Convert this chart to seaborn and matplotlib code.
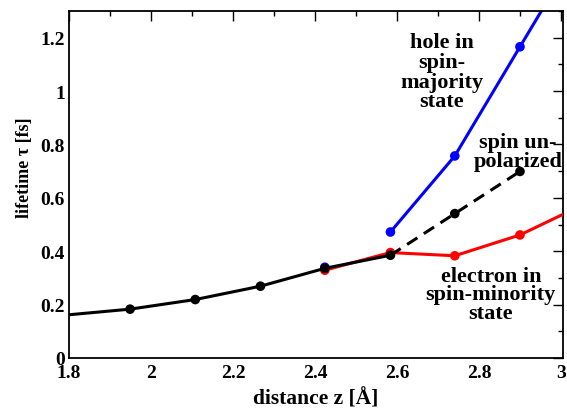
import matplotlib
matplotlib.use("Agg")
import matplotlib.pyplot as plt
import seaborn as sns
from matplotlib.ticker import MultipleLocator, FuncFormatter

sns.set_theme(style="white")
plt.rcParams['font.family'] = ['Liberation Serif', 'DejaVu Serif']
plt.rcParams['font.weight'] = 'bold'
plt.rcParams['text.color'] = 'black'
plt.rcParams['axes.labelcolor'] = 'black'
plt.rcParams['xtick.color'] = 'black'
plt.rcParams['ytick.color'] = 'black'

# black: spin unpolarized (solid part incl. line start at 1.8)
black_x = [1.8, 1.949, 2.108, 2.267, 2.424, 2.584]
black_y = [0.162, 0.183, 0.219, 0.269, 0.336, 0.385]
black_marker_x = [1.949, 2.108, 2.267, 2.424, 2.584]
black_marker_y = [0.183, 0.219, 0.269, 0.336, 0.385]
# black dashed continuation
dash_x = [2.584, 2.741, 2.900]
dash_y = [0.385, 0.541, 0.699]
# blue: hole in spin-majority state
blue_x = [2.584, 2.741, 2.900, 3.0]
blue_y = [0.472, 0.757, 1.166, 1.423]
blue_marker_x = [2.424, 2.584, 2.741, 2.900]
blue_marker_y = [0.340, 0.472, 0.757, 1.166]
# red: electron in spin-minority state
red_x = [2.424, 2.584, 2.741, 2.900, 3.01]
red_y = [0.329, 0.395, 0.383, 0.461, 0.542]
red_marker_x = [2.424, 2.584, 2.741, 2.900]
red_marker_y = [0.329, 0.395, 0.383, 0.461]

fig = plt.figure(figsize=(5.67, 4.10), dpi=100)
ax = fig.add_axes([0.1217, 0.1244, 0.993 - 0.1217, 0.9707 - 0.1244])

lw = 2.2
ms = 48
sns.lineplot(x=blue_x, y=blue_y, color='#0000ff', lw=lw, ax=ax, zorder=2)
sns.scatterplot(x=blue_marker_x, y=blue_marker_y, color='#0000ff', s=ms, edgecolor='none', ax=ax, zorder=2)
sns.lineplot(x=red_x, y=red_y, color='#ff0000', lw=lw, ax=ax, zorder=3)
sns.scatterplot(x=red_marker_x, y=red_marker_y, color='#ff0000', s=ms, edgecolor='none', ax=ax, zorder=3)
sns.lineplot(x=dash_x, y=dash_y, color='black', lw=lw, ax=ax, zorder=4, linestyle=(0, (4, 2.5)))
sns.lineplot(x=black_x, y=black_y, color='black', lw=lw, ax=ax, zorder=4)
sns.scatterplot(x=black_marker_x + [dash_x[1], dash_x[2]], y=black_marker_y + [dash_y[1], dash_y[2]],
                color='black', s=ms, edgecolor='none', ax=ax, zorder=5)

ax.set_xlim(1.8, 3.005)
ax.set_ylim(0, 1.3)
ax.xaxis.set_major_locator(MultipleLocator(0.2))
ax.xaxis.set_minor_locator(MultipleLocator(0.1))
ax.yaxis.set_major_locator(MultipleLocator(0.2))
ax.yaxis.set_minor_locator(MultipleLocator(0.1))
fmt = FuncFormatter(lambda v, p: ('%g' % round(v, 2)))
ax.xaxis.set_major_formatter(fmt)
ax.yaxis.set_major_formatter(fmt)
ax.tick_params(which='both', direction='in', top=True, right=True, width=1.0, color='black')
ax.tick_params(which='major', length=7, labelsize=14, pad=3)
ax.tick_params(axis='x', which='major', pad=4.5)
ax.tick_params(which='minor', length=3.5)
for lab in ax.get_xticklabels() + ax.get_yticklabels():
    lab.set_fontweight('bold')
for s in ax.spines.values():
    s.set_color('black')
    s.set_linewidth(1.3)

ax.set_xlabel('distance z [Å]', fontsize=15.5, fontweight='bold', labelpad=5)
ax.set_ylabel('lifetime τ [fs]', fontsize=13, fontweight='bold', labelpad=4)
ax.yaxis.set_label_coords(-0.073, 0.55)

tk = dict(fontsize=16, fontweight='bold', ha='center', va='center', color='black')
ax.text(2.709, 1.072, 'hole in\nspin-\nmajority\nstate', linespacing=0.98, **tk)
ax.text(2.895, 0.774, 'spin un-\npolarized', linespacing=0.88, **tk)
ax.text(2.829, 0.238, 'electron in\nspin-minority\nstate', linespacing=0.9, **tk)

fig.savefig('out.png', dpi=100)
